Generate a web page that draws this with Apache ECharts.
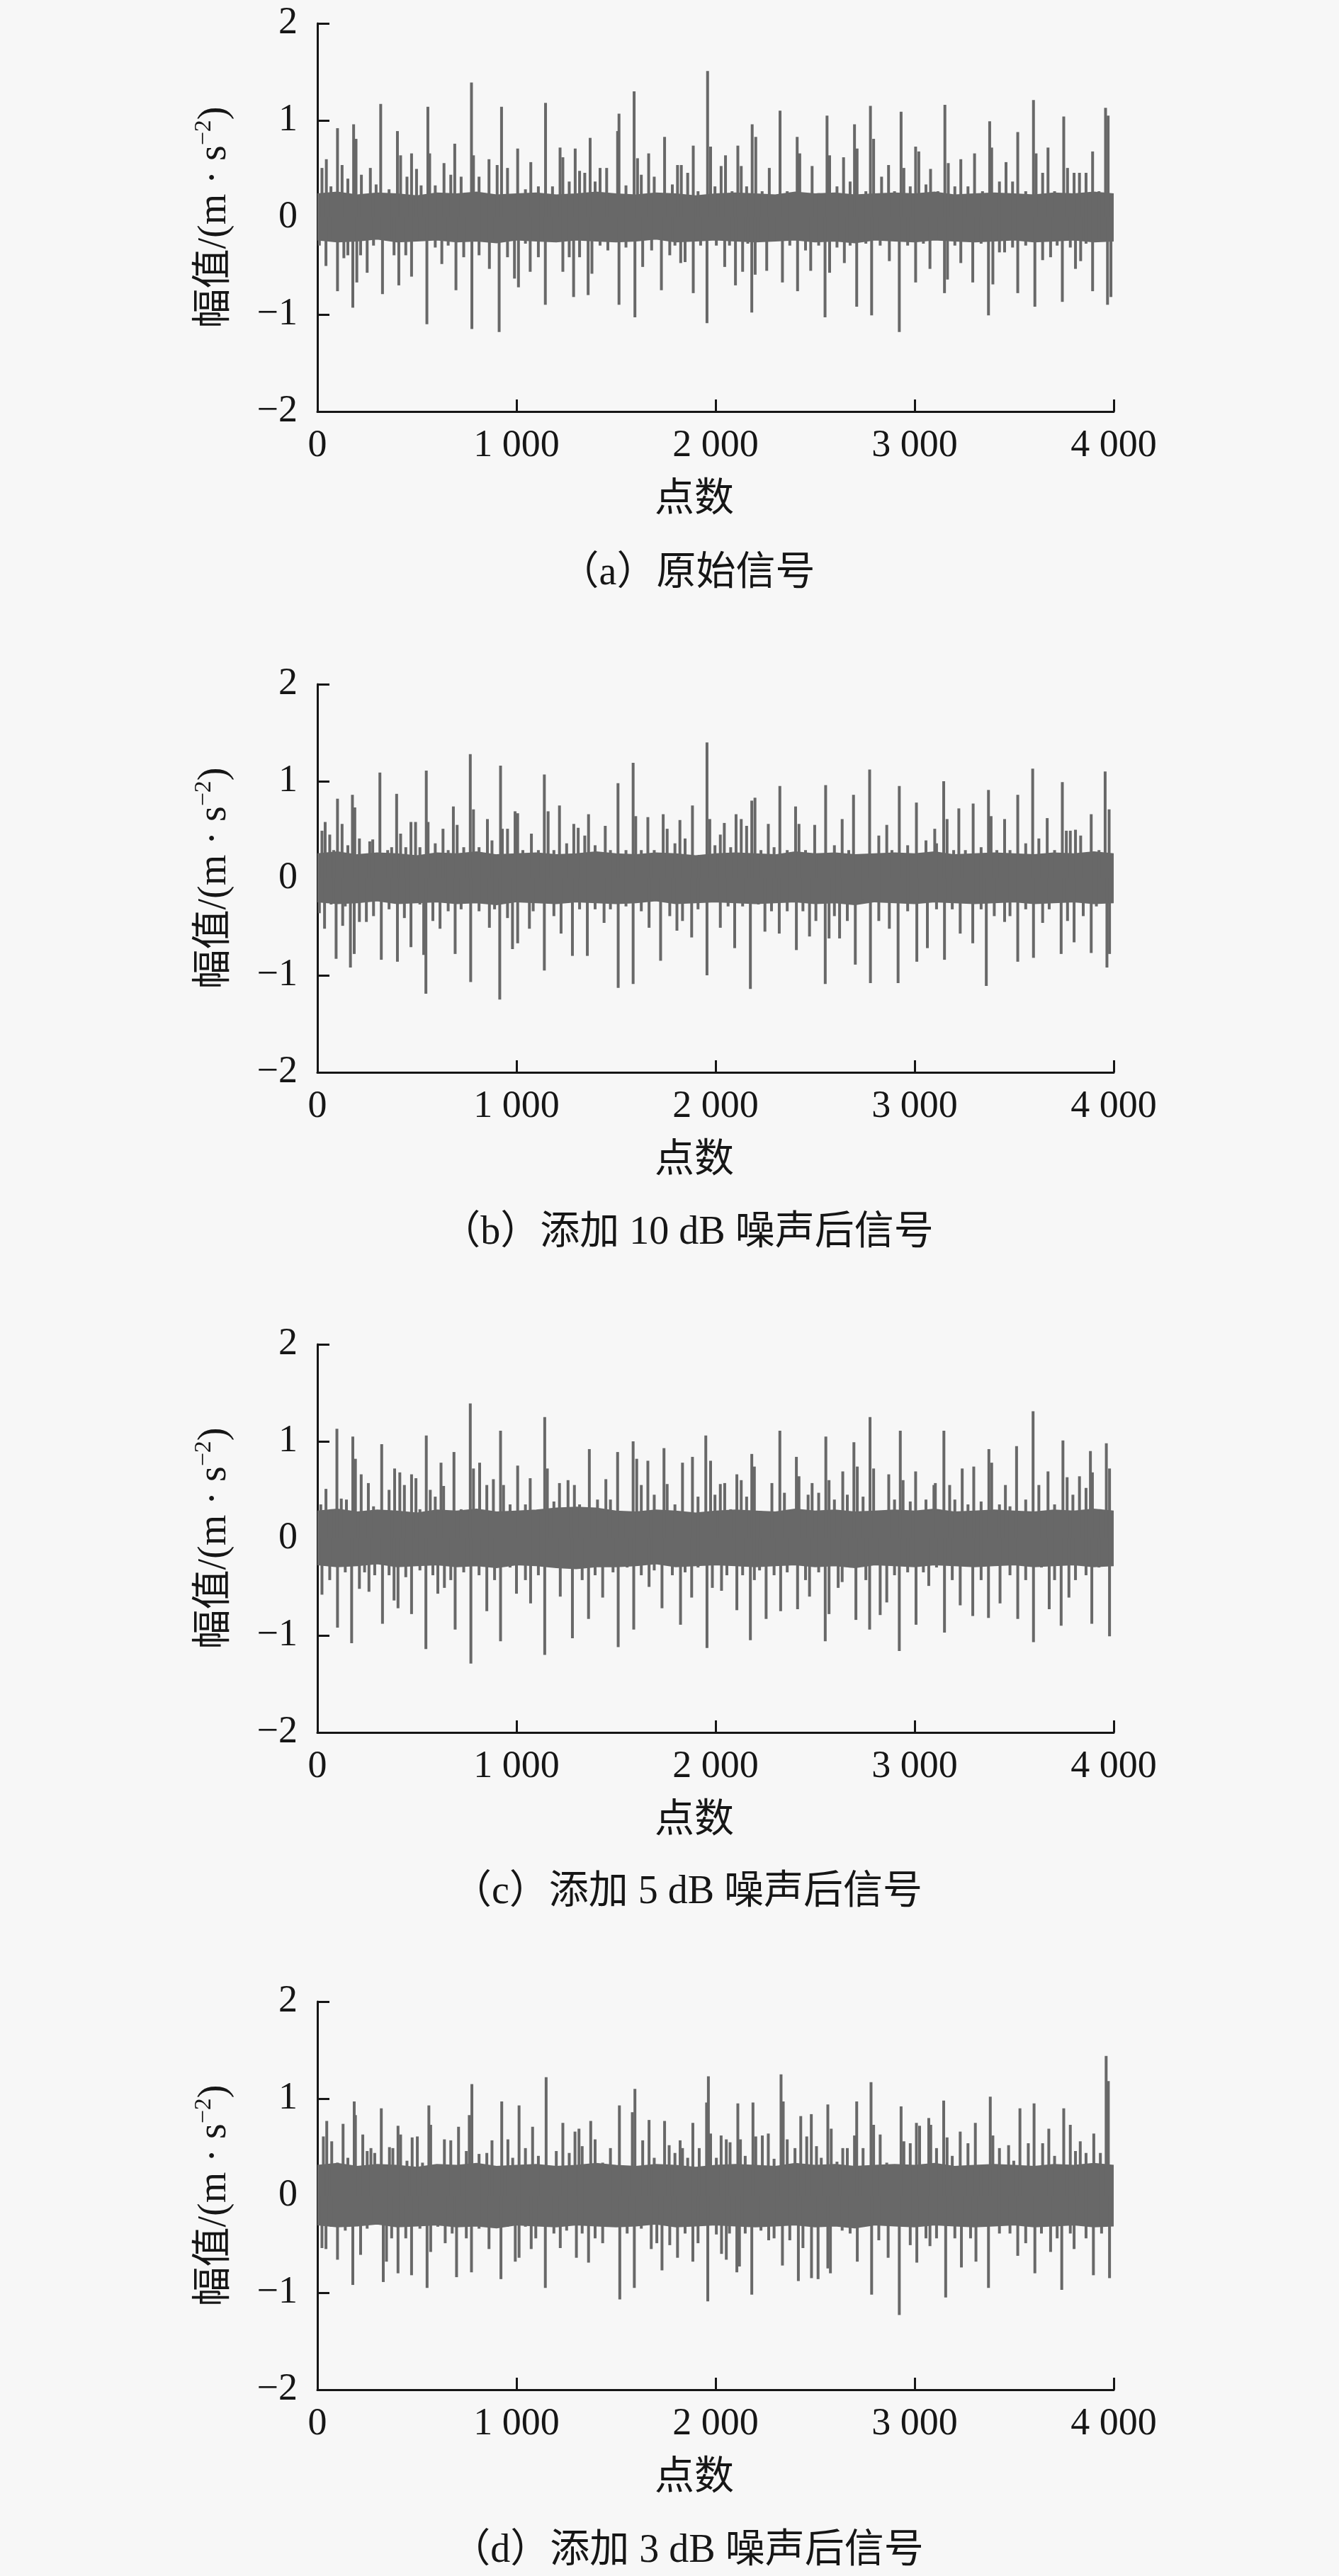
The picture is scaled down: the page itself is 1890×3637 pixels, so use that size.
<!DOCTYPE html>
<html><head><meta charset="utf-8">
<script src="https://cdn.jsdelivr.net/npm/echarts@6/dist/echarts.min.js"></script>
<style>html,body{margin:0;padding:0;background:#f7f7f7}#c{width:1890px;height:3637px}</style>
</head><body><div id="c"></div>
<script>
// ---------- text ----------
const captions = ['（a）原始信号', '（b）添加 10 dB 噪声后信号', '（c）添加 5 dB 噪声后信号', '（d）添加 3 dB 噪声后信号'];
const xName = '点数';
const yNameParts = ['幅值/(m · s', '−2', ')'];
const xTickValues = [0, 1000, 2000, 3000, 4000];
const yTickValues = [-2, -1, 0, 1, 2];

// ---------- dense core band, read every 100 points ----------
const coreX = [0,100,200,300,400,500,600,700,800,900,1000,1100,1200,1300,1400,1500,1600,1700,1800,1900,2000,2100,2200,2300,2400,2500,2600,2700,2800,2900,3000,3100,3200,3300,3400,3500,3600,3700,3800,3900,4000];
const coreHiA = [0.24,0.26,0.23,0.25,0.24,0.22,0.25,0.24,0.26,0.23,0.24,0.25,0.23,0.24,0.26,0.24,0.23,0.25,0.24,0.22,0.24,0.25,0.24,0.23,0.26,0.24,0.25,0.23,0.24,0.25,0.24,0.26,0.23,0.24,0.25,0.24,0.23,0.25,0.24,0.26,0.24];
const coreLoA = [-0.23,-0.25,-0.24,-0.22,-0.25,-0.24,-0.23,-0.25,-0.24,-0.26,-0.23,-0.24,-0.25,-0.23,-0.24,-0.25,-0.24,-0.22,-0.25,-0.24,-0.23,-0.24,-0.25,-0.24,-0.23,-0.25,-0.24,-0.26,-0.23,-0.24,-0.25,-0.23,-0.24,-0.25,-0.24,-0.23,-0.25,-0.24,-0.23,-0.25,-0.24];
const coreHiB = [0.25,0.27,0.24,0.26,0.25,0.23,0.26,0.25,0.27,0.24,0.25,0.26,0.24,0.25,0.27,0.25,0.24,0.26,0.25,0.23,0.25,0.26,0.25,0.24,0.27,0.25,0.26,0.24,0.25,0.26,0.25,0.27,0.24,0.25,0.26,0.25,0.24,0.26,0.25,0.27,0.25];
const coreLoB = [-0.24,-0.26,-0.25,-0.23,-0.26,-0.25,-0.24,-0.26,-0.25,-0.27,-0.24,-0.25,-0.26,-0.24,-0.25,-0.26,-0.25,-0.23,-0.26,-0.25,-0.24,-0.25,-0.26,-0.25,-0.24,-0.26,-0.25,-0.27,-0.24,-0.25,-0.26,-0.24,-0.25,-0.26,-0.25,-0.24,-0.26,-0.25,-0.24,-0.26,-0.25];
const coreHiC = [0.28,0.30,0.27,0.29,0.28,0.26,0.29,0.28,0.30,0.27,0.28,0.29,0.31,0.32,0.31,0.28,0.27,0.29,0.28,0.26,0.28,0.29,0.28,0.27,0.30,0.28,0.29,0.27,0.28,0.29,0.28,0.30,0.27,0.28,0.29,0.28,0.27,0.29,0.28,0.30,0.28];
const coreLoC = [-0.27,-0.29,-0.28,-0.26,-0.29,-0.28,-0.27,-0.29,-0.28,-0.30,-0.27,-0.28,-0.30,-0.31,-0.29,-0.29,-0.28,-0.26,-0.29,-0.28,-0.27,-0.28,-0.29,-0.28,-0.27,-0.29,-0.28,-0.30,-0.27,-0.28,-0.29,-0.27,-0.28,-0.29,-0.28,-0.27,-0.29,-0.28,-0.27,-0.29,-0.28];
const coreHiD = [0.31,0.33,0.30,0.32,0.31,0.29,0.32,0.31,0.33,0.30,0.31,0.32,0.30,0.31,0.33,0.31,0.30,0.32,0.31,0.29,0.31,0.32,0.31,0.30,0.33,0.31,0.32,0.30,0.31,0.32,0.31,0.33,0.30,0.31,0.32,0.31,0.30,0.32,0.31,0.33,0.31];
const coreLoD = [-0.30,-0.32,-0.31,-0.29,-0.32,-0.31,-0.30,-0.32,-0.31,-0.33,-0.30,-0.31,-0.32,-0.30,-0.31,-0.32,-0.31,-0.29,-0.32,-0.31,-0.30,-0.31,-0.32,-0.31,-0.30,-0.32,-0.31,-0.33,-0.30,-0.31,-0.32,-0.30,-0.31,-0.32,-0.31,-0.30,-0.32,-0.31,-0.30,-0.32,-0.31];

// ---------- (a) 原始信号: local peaks / troughs [sample index, value] ----------
const upA = [[23,0.51],[45,0.60],[68,0.32],[101,0.92],[124,0.54],[153,0.40],[182,0.96],[194,0.81],[221,0.44],[266,0.51],[295,0.34],[318,1.17],[360,0.29],[402,0.89],[418,0.64],[450,0.42],[473,0.66],[498,0.50],[521,0.33],[555,1.14],[564,0.66],[592,0.33],[636,0.56],[670,0.44],[690,0.76],[722,0.42],[774,1.39],[784,0.64],[812,0.42],[862,0.60],[903,0.54],[925,1.14],[955,0.51],[1006,0.71],[1045,0.29],[1072,0.57],[1110,0.32],[1146,1.18],[1181,0.32],[1219,0.72],[1233,0.62],[1265,0.37],[1295,0.71],[1317,0.48],[1343,0.46],[1370,0.82],[1395,0.37],[1420,0.51],[1453,0.51],[1508,0.89],[1515,1.07],[1550,0.33],[1591,1.30],[1608,0.61],[1627,0.44],[1664,0.66],[1692,0.42],[1744,0.83],[1783,0.34],[1809,0.54],[1828,0.54],[1860,0.46],[1888,0.74],[1912,0.27],[1960,1.51],
  [1975,0.73],[1997,0.32],[2028,0.53],[2050,0.64],[2083,0.27],[2112,0.74],[2129,0.53],[2156,0.32],[2184,0.96],[2202,0.83],[2234,0.27],[2270,0.51],[2324,1.10],[2360,0.27],[2410,0.83],[2423,0.66],[2485,0.53],[2518,0.25],[2560,1.05],[2573,0.64],[2610,0.32],[2643,0.62],[2676,0.37],[2698,0.96],[2711,0.71],[2755,0.27],[2778,1.15],[2794,0.81],[2834,0.42],[2869,0.54],[2899,0.27],[2932,1.09],[2946,0.51],[2978,0.32],[3005,0.73],[3021,0.68],[3057,0.34],[3080,0.50],[3117,0.27],[3152,1.16],[3169,0.56],[3202,0.32],[3232,0.60],[3268,0.32],[3301,0.66],[3341,0.27],[3377,0.99],[3387,0.72],[3426,0.37],[3459,0.57],[3492,0.37],[3518,0.88],[3558,0.27],[3597,1.21],[3610,0.66],[3643,0.46],[3670,0.72],[3703,0.27],[3749,1.04],[3768,0.51],[3801,0.46],[3828,0.46],[3861,0.46],[3894,0.68],[3926,0.27],[3959,1.13],[3972,1.05]];
const downA = [[10,-0.29],[43,-0.50],[75,-0.22],[101,-0.76],[133,-0.42],[153,-0.39],[178,-0.93],[198,-0.67],[217,-0.39],[250,-0.57],[282,-0.29],[327,-0.79],[360,-0.22],[385,-0.39],[409,-0.70],[444,-0.39],[473,-0.61],[515,-0.22],[550,-1.10],[592,-0.31],[625,-0.48],[657,-0.29],[696,-0.75],[735,-0.41],[776,-1.15],[812,-0.39],[864,-0.53],[890,-0.22],[913,-1.18],[955,-0.41],[990,-0.63],[1010,-0.72],[1045,-0.27],[1069,-0.56],[1110,-0.41],[1145,-0.90],[1188,-0.22],[1233,-0.56],[1265,-0.41],[1287,-0.82],[1317,-0.41],[1360,-0.80],[1379,-0.58],[1420,-0.29],[1459,-0.34],[1515,-0.90],[1550,-0.31],[1595,-1.03],[1634,-0.51],[1679,-0.34],[1728,-0.75],[1770,-0.39],[1796,-0.29],[1825,-0.47],[1847,-0.46],[1888,-0.78],[1925,-0.29],[1957,-1.09],
  [2004,-0.29],[2046,-0.51],[2070,-0.29],[2100,-0.70],[2136,-0.56],[2162,-0.27],[2182,-0.98],[2199,-0.59],[2228,-0.22],[2257,-0.55],[2294,-0.24],[2336,-0.67],[2373,-0.29],[2412,-0.76],[2452,-0.34],[2478,-0.55],[2518,-0.29],[2550,-1.03],[2573,-0.57],[2610,-0.31],[2647,-0.47],[2676,-0.29],[2709,-0.92],[2755,-0.27],[2784,-1.01],[2827,-0.29],[2873,-0.45],[2923,-1.18],[2965,-0.29],[3005,-0.67],[3044,-0.27],[3077,-0.53],[3110,-0.22],[3150,-0.78],[3165,-0.64],[3202,-0.29],[3232,-0.47],[3292,-0.67],[3334,-0.27],[3371,-1.01],[3393,-0.69],[3426,-0.36],[3452,-0.36],[3492,-0.31],[3518,-0.78],[3558,-0.29],[3604,-0.92],[3643,-0.44],[3683,-0.41],[3716,-0.29],[3742,-0.87],[3782,-0.31],[3808,-0.53],[3834,-0.45],[3861,-0.27],[3894,-0.76],[3926,-0.22],[3969,-0.90],[3986,-0.82]];

// ---------- (b) 10 dB ----------
const upB = [[23,0.49],[39,0.58],[62,0.45],[82,0.29],[101,0.82],[124,0.56],[153,0.34],[176,0.86],[188,0.73],[211,0.41],[243,0.22],[263,0.38],[278,0.40],[314,1.09],[353,0.29],[373,0.32],[398,0.87],[418,0.46],[444,0.32],[470,0.58],[493,0.58],[515,0.32],[547,1.11],[556,0.58],[592,0.36],[631,0.51],[657,0.29],[683,0.74],[702,0.55],[735,0.32],[768,1.28],[784,0.71],[812,0.32],[854,0.61],[877,0.39],[920,1.16],[929,0.51],[955,0.51],[993,0.69],[1006,0.67],[1032,0.29],[1075,0.46],[1110,0.29],[1140,1.07],[1159,0.69],[1188,0.29],[1216,0.75],[1252,0.36],[1288,0.56],[1310,0.52],[1343,0.44],[1362,0.66],[1395,0.34],[1446,0.54],[1472,0.29],[1510,0.98],[1550,0.29],[1586,1.19],[1599,0.64],[1627,0.29],[1660,0.63],[1692,0.29],[1737,0.66],[1757,0.51],[1796,0.36],[1821,0.60],[1847,0.41],[1884,0.75],[1918,0.24],[1957,1.40],
  [1971,0.61],[1997,0.34],[2024,0.45],[2044,0.57],[2076,0.32],[2103,0.66],[2129,0.61],[2156,0.54],[2182,0.80],[2198,0.83],[2228,0.29],[2265,0.56],[2294,0.32],[2323,0.95],[2360,0.29],[2402,0.74],[2419,0.56],[2452,0.29],[2498,0.55],[2518,0.24],[2553,0.96],[2597,0.34],[2636,0.61],[2669,0.29],[2693,0.86],[2741,0.24],[2774,1.12],[2820,0.44],[2860,0.55],[2886,0.29],[2923,0.95],[2965,0.34],[3009,0.78],[3057,0.39],[3101,0.51],[3110,0.36],[3146,1.00],[3163,0.61],[3196,0.29],[3222,0.72],[3255,0.29],[3294,0.77],[3334,0.32],[3371,0.91],[3384,0.64],[3413,0.29],[3452,0.61],[3479,0.29],[3518,0.86],[3558,0.36],[3593,1.13],[3624,0.41],[3666,0.62],[3703,0.29],[3742,0.99],[3762,0.49],[3782,0.49],[3808,0.50],[3834,0.44],[3887,0.66],[3926,0.29],[3957,1.10],[3977,0.71]];
const downB = [[10,-0.36],[36,-0.52],[69,-0.27],[94,-0.83],[127,-0.49],[140,-0.29],[166,-0.92],[185,-0.78],[211,-0.45],[246,-0.45],[282,-0.39],[321,-0.84],[360,-0.32],[402,-0.86],[437,-0.41],[470,-0.71],[515,-0.27],[534,-0.79],[545,-1.19],[580,-0.44],[616,-0.52],[657,-0.34],[692,-0.78],[722,-0.32],[770,-1.07],[812,-0.34],[864,-0.51],[890,-0.32],[916,-1.25],[955,-0.41],[980,-0.73],[1006,-0.67],[1045,-0.24],[1065,-0.52],[1084,-0.34],[1140,-0.95],[1188,-0.39],[1224,-0.57],[1281,-0.80],[1317,-0.32],[1356,-0.80],[1395,-0.32],[1440,-0.46],[1472,-0.32],[1511,-1.13],[1550,-0.29],[1586,-1.09],[1627,-0.34],[1666,-0.51],[1724,-0.85],[1770,-0.39],[1806,-0.54],[1834,-0.44],[1880,-0.61],[1912,-0.32],[1957,-1.00],
  [2024,-0.51],[2063,-0.29],[2096,-0.72],[2136,-0.29],[2175,-1.14],[2215,-0.27],[2248,-0.55],[2281,-0.34],[2320,-0.57],[2360,-0.34],[2406,-0.74],[2439,-0.34],[2472,-0.60],[2504,-0.44],[2551,-1.09],[2570,-0.62],[2597,-0.39],[2623,-0.62],[2662,-0.44],[2702,-0.89],[2741,-0.22],[2778,-1.08],[2820,-0.44],[2873,-0.52],[2917,-1.08],[2965,-0.34],[3011,-0.86],[3064,-0.72],[3110,-0.32],[3150,-0.84],[3189,-0.32],[3229,-0.57],[3292,-0.67],[3334,-0.32],[3360,-1.11],[3400,-0.39],[3452,-0.45],[3479,-0.39],[3518,-0.86],[3558,-0.32],[3597,-0.82],[3643,-0.46],[3676,-0.32],[3736,-0.78],[3768,-0.44],[3801,-0.66],[3847,-0.39],[3887,-0.77],[3913,-0.29],[3966,-0.92],[3979,-0.78]];

// ---------- (c) 5 dB ----------
const upC = [[17,0.35],[43,0.51],[69,0.30],[98,1.13],[120,0.41],[146,0.40],[178,1.05],[191,0.82],[220,0.66],[256,0.57],[282,0.33],[323,0.97],[360,0.50],[388,0.72],[414,0.68],[437,0.55],[473,0.66],[495,0.62],[515,0.30],[547,1.06],[567,0.50],[592,0.43],[621,0.78],[634,0.54],[686,0.89],[722,0.30],[768,1.39],[784,0.72],[815,0.78],[851,0.55],[884,0.61],[920,1.11],[935,0.55],[968,0.35],[1006,0.75],[1045,0.35],[1069,0.62],[1110,0.26],[1142,1.25],[1155,0.72],[1188,0.38],[1216,0.57],[1259,0.60],[1291,0.55],[1317,0.35],[1366,0.92],[1407,0.40],[1449,0.61],[1472,0.40],[1508,0.89],[1550,0.23],[1586,1.00],[1604,0.82],[1627,0.55],[1660,0.80],[1692,0.45],[1741,0.93],[1757,0.56],[1796,0.35],[1834,0.78],[1884,0.84],[1912,0.43],[1951,1.06],
  [1975,0.80],[1997,0.45],[2024,0.56],[2046,0.57],[2076,0.30],[2107,0.66],[2129,0.60],[2156,0.43],[2182,0.87],[2195,0.74],[2228,0.28],[2283,0.57],[2323,1.11],[2346,0.47],[2406,0.84],[2419,0.64],[2465,0.45],[2485,0.57],[2518,0.47],[2554,1.05],[2570,0.60],[2597,0.40],[2639,0.69],[2662,0.45],[2695,0.99],[2712,0.74],[2741,0.43],[2776,1.25],[2794,0.72],[2834,0.28],[2870,0.66],[2899,0.40],[2928,1.11],[2942,0.60],[2978,0.38],[3005,0.69],[3057,0.40],[3097,0.55],[3104,0.57],[3147,1.11],[3176,0.55],[3202,0.40],[3239,0.72],[3268,0.35],[3297,0.74],[3334,0.38],[3373,0.92],[3387,0.78],[3426,0.35],[3456,0.55],[3479,0.33],[3512,0.95],[3558,0.40],[3595,1.31],[3624,0.55],[3670,0.69],[3703,0.35],[3745,1.01],[3766,0.63],[3795,0.45],[3828,0.64],[3861,0.52],[3883,0.90],[3893,0.68],[3933,0.30],[3963,0.98],[3979,0.72]];
const downC = [[23,-0.58],[62,-0.43],[101,-0.92],[140,-0.35],[172,-1.08],[211,-0.52],[237,-0.35],[259,-0.55],[288,-0.38],[327,-0.88],[360,-0.38],[385,-0.64],[405,-0.72],[444,-0.40],[473,-0.78],[515,-0.33],[545,-1.14],[580,-0.38],[605,-0.57],[638,-0.51],[670,-0.43],[692,-0.94],[735,-0.35],[771,-1.29],[812,-0.38],[851,-0.75],[890,-0.43],[920,-1.06],[968,-0.30],[1000,-0.57],[1045,-0.43],[1071,-0.67],[1110,-0.38],[1142,-1.20],[1200,-0.30],[1220,-0.60],[1281,-1.03],[1330,-0.43],[1362,-0.83],[1395,-0.38],[1433,-0.61],[1485,-0.35],[1511,-1.12],[1556,-0.30],[1589,-0.94],[1627,-0.38],[1666,-0.50],[1692,-0.33],[1731,-0.72],[1783,-0.38],[1824,-0.89],[1847,-0.35],[1880,-0.61],[1912,-0.30],[1957,-1.13],
  [1984,-0.51],[2030,-0.54],[2057,-0.38],[2107,-0.74],[2136,-0.38],[2175,-1.05],[2195,-0.43],[2221,-0.33],[2254,-0.83],[2294,-0.38],[2327,-0.75],[2360,-0.35],[2412,-0.73],[2452,-0.43],[2472,-0.60],[2518,-0.35],[2551,-1.06],[2570,-0.78],[2616,-0.51],[2636,-0.45],[2676,-0.30],[2705,-0.84],[2755,-0.43],[2774,-0.94],[2827,-0.79],[2860,-0.66],[2899,-0.38],[2923,-1.16],[2965,-0.35],[3007,-0.89],[3044,-0.35],[3071,-0.49],[3110,-0.30],[3150,-0.97],[3189,-0.43],[3229,-0.69],[3292,-0.80],[3334,-0.43],[3371,-0.82],[3429,-0.67],[3479,-0.38],[3518,-0.83],[3558,-0.43],[3597,-1.07],[3637,-0.30],[3676,-0.73],[3703,-0.43],[3736,-0.90],[3775,-0.61],[3808,-0.43],[3861,-0.38],[3890,-0.88],[3926,-0.30],[3979,-1.01]];

// ---------- (d) 3 dB ----------
const upD = [[30,0.61],[47,0.77],[72,0.56],[101,0.34],[129,0.74],[153,0.39],[185,0.97],[191,0.83],[228,0.63],[250,0.46],[269,0.49],[288,0.44],[321,0.90],[362,0.50],[379,0.49],[405,0.72],[418,0.63],[450,0.36],[476,0.60],[502,0.61],[528,0.34],[560,0.93],[569,0.73],[605,0.24],[638,0.58],[670,0.57],[709,0.71],[748,0.46],[763,0.83],[776,1.15],[812,0.43],[851,0.44],[877,0.57],[926,0.97],[957,0.58],[981,0.39],[1013,0.93],[1045,0.49],[1081,0.71],[1110,0.41],[1149,1.22],[1200,0.46],[1233,0.75],[1265,0.44],[1294,0.66],[1314,0.69],[1330,0.51],[1373,0.77],[1395,0.58],[1433,0.34],[1472,0.49],[1517,0.93],[1537,0.29],[1582,0.86],[1595,1.10],[1634,0.57],[1666,0.78],[1692,0.39],[1744,0.77],[1767,0.52],[1796,0.44],[1822,0.57],[1834,0.49],[1860,0.39],[1886,0.75],[1918,0.49],[1955,0.96],[1964,1.23],
  [1975,0.64],[2004,0.39],[2028,0.62],[2054,0.58],[2073,0.55],[2112,0.95],[2125,0.58],[2149,0.41],[2188,0.96],[2202,0.61],[2235,0.62],[2265,0.64],[2294,0.38],[2329,1.25],[2340,0.97],[2360,0.58],[2399,0.49],[2428,0.82],[2458,0.61],[2481,0.84],[2507,0.51],[2531,0.39],[2564,0.94],[2581,0.69],[2610,0.35],[2639,0.49],[2662,0.49],[2698,0.62],[2709,0.97],[2741,0.49],[2781,1.17],[2794,0.73],[2827,0.63],[2860,0.34],[2932,0.92],[2946,0.56],[2978,0.54],[3009,0.75],[3025,0.72],[3071,0.80],[3081,0.73],[3110,0.49],[3146,0.98],[3163,0.60],[3189,0.41],[3229,0.66],[3268,0.54],[3305,0.75],[3334,0.29],[3380,1.02],[3393,0.62],[3426,0.49],[3472,0.52],[3498,0.36],[3529,0.90],[3571,0.54],[3600,0.95],[3643,0.54],[3674,0.69],[3703,0.41],[3749,0.90],[3782,0.73],[3808,0.46],[3832,0.56],[3861,0.44],[3900,0.64],[3933,0.44],[3962,1.44],[3973,1.18]];
const downD = [[23,-0.54],[43,-0.55],[69,-0.32],[101,-0.66],[140,-0.36],[178,-0.92],[217,-0.61],[250,-0.34],[282,-0.27],[331,-0.89],[347,-0.68],[373,-0.44],[405,-0.80],[444,-0.44],[473,-0.82],[515,-0.34],[551,-0.95],[569,-0.58],[605,-0.32],[642,-0.49],[677,-0.39],[699,-0.84],[748,-0.44],[774,-0.79],[812,-0.34],[862,-0.55],[922,-0.86],[955,-0.32],[994,-0.68],[1013,-0.64],[1045,-0.32],[1074,-0.55],[1097,-0.44],[1145,-0.95],[1188,-0.39],[1220,-0.54],[1252,-0.36],[1301,-0.64],[1330,-0.39],[1362,-0.69],[1395,-0.44],[1433,-0.49],[1472,-0.32],[1519,-1.07],[1556,-0.39],[1592,-0.95],[1627,-0.34],[1677,-0.55],[1705,-0.49],[1731,-0.77],[1770,-0.51],[1809,-0.64],[1847,-0.39],[1886,-0.68],[1912,-0.49],[1961,-1.09],
  [2004,-0.40],[2030,-0.60],[2054,-0.66],[2070,-0.39],[2107,-0.79],[2120,-0.73],[2149,-0.39],[2182,-1.02],[2228,-0.36],[2267,-0.46],[2294,-0.44],[2336,-0.72],[2373,-0.46],[2416,-0.88],[2439,-0.54],[2482,-0.85],[2515,-0.86],[2564,-0.75],[2577,-0.80],[2636,-0.36],[2676,-0.39],[2712,-0.68],[2784,-1.02],[2820,-0.46],[2867,-0.64],[2923,-1.23],[2978,-0.51],[3011,-0.69],[3057,-0.44],[3077,-0.52],[3110,-0.44],[3156,-1.05],[3202,-0.44],[3235,-0.74],[3281,-0.44],[3308,-0.68],[3371,-0.95],[3426,-0.39],[3479,-0.39],[3518,-0.62],[3558,-0.49],[3604,-0.80],[3637,-0.39],[3683,-0.58],[3716,-0.44],[3739,-0.97],[3782,-0.39],[3801,-0.55],[3861,-0.44],[3898,-0.82],[3939,-0.39],[3979,-0.85]];

// ---------- build ----------
const panels = [
  {up: upA, down: downA, hi: coreHiA, lo: coreLoA},
  {up: upB, down: downB, hi: coreHiB, lo: coreLoB},
  {up: upC, down: downC, hi: coreHiC, lo: coreLoC},
  {up: upD, down: downD, hi: coreHiD, lo: coreLoD}
];
const gridTops = [33, 966, 1898, 2826];
const captionY = [810, 1741, 2672, 3602];
const GRAY = '#686868';
const INK = '#161616';
const SERIF = "'Liberation Serif','Times New Roman','Noto Sans CJK SC',serif";

const grid = [], xAxis = [], yAxis = [], series = [], graphic = [];
panels.forEach((p, i) => {
  grid.push({left: 448, width: 1124, top: gridTops[i], height: 548});
  xAxis.push({
    type: 'value', gridIndex: i, min: xTickValues[0], max: xTickValues[xTickValues.length - 1], interval: 1000,
    name: xName, nameLocation: 'middle', nameGap: 95,
    nameTextStyle: {fontFamily: SERIF, fontSize: 56, color: INK, lineHeight: 60, padding: [0, 60, 0, 0]},
    axisLine: {show: true, onZero: false, lineStyle: {color: INK, width: 3}},
    axisTick: {show: true, inside: true, length: 17, lineStyle: {color: INK, width: 3}},
    axisLabel: {fontFamily: SERIF, fontSize: 54, color: INK, margin: 22,
      formatter: v => String(v).replace(/\B(?=(\d{3})+(?!\d))/g, ' ')},
    splitLine: {show: false}
  });
  yAxis.push({
    type: 'value', gridIndex: i, min: yTickValues[0], max: yTickValues[yTickValues.length - 1], interval: 1,
    name: '{n|' + yNameParts[0] + '}{s|' + yNameParts[1] + '}{n|' + yNameParts[2] + '}',
    nameLocation: 'middle', nameGap: 113, nameRotate: 90,
    nameTextStyle: {fontFamily: SERIF, fontSize: 56, color: INK,
      rich: {n: {fontFamily: SERIF, fontSize: 56, color: INK, lineHeight: 64},
             s: {fontFamily: SERIF, fontSize: 34, color: INK, lineHeight: 36, verticalAlign: 'top'}}},
    axisLine: {show: true, onZero: false, lineStyle: {color: INK, width: 3}},
    axisTick: {show: true, inside: true, length: 17, lineStyle: {color: INK, width: 3}},
    axisLabel: {fontFamily: SERIF, fontSize: 54, color: INK, margin: 28,
      formatter: v => (v < 0 ? '−' + Math.abs(v) : String(v))},
    splitLine: {show: false}
  });
  const area = arr => ({
    type: 'line', xAxisIndex: i, yAxisIndex: i, silent: true, showSymbol: false, symbol: 'none',
    data: coreX.map((x, k) => [x, arr[k]]),
    lineStyle: {width: 2, color: GRAY}, areaStyle: {color: GRAY, opacity: 1, origin: 0}, z: 2
  });
  series.push(area(p.hi), area(p.lo));
  const sig = p.up.concat(p.down).sort((a, b) => a[0] - b[0]);
  series.push({
    type: 'bar', xAxisIndex: i, yAxisIndex: i, silent: true, barWidth: 4,
    data: sig, itemStyle: {color: GRAY}, z: 3
  });
  graphic.push({
    type: 'text', x: 970, y: captionY[i],
    style: {text: captions[i], fontFamily: SERIF, fontSize: 56, fill: INK,
      align: 'center', verticalAlign: 'middle', textAlign: 'center', textVerticalAlign: 'middle'}
  });
});

const chart = echarts.init(document.getElementById('c'), null, {renderer: 'canvas'});
chart.setOption({
  backgroundColor: '#f7f7f7', animation: false,
  grid, xAxis, yAxis, series, graphic
});
</script>
</body></html>
